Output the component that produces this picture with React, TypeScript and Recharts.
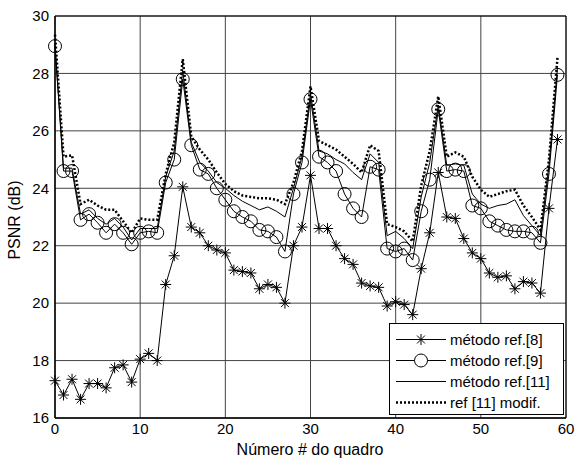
import { LineChart, Line, XAxis, YAxis, CartesianGrid, ReferenceArea, Legend } from "recharts"

const frames = Array.from({ length: 60 }, (_, i) => i)

const ref8 = [
  17.3, 16.8, 17.35, 16.65, 17.2, 17.2, 17.05, 17.75, 17.85, 17.25,
  18.05, 18.25, 18.0, 20.65, 21.65, 24.05, 22.65, 22.45, 22.0, 21.85,
  21.75, 21.15, 21.1, 21.05, 20.5, 20.65, 20.55, 20.0, 22.0, 22.65,
  24.45, 22.6, 22.6, 22.0, 21.55, 21.35, 20.7, 20.6, 20.55, 19.9,
  20.05, 19.95, 19.6, 21.2, 22.45, 24.55, 23.0, 22.95, 22.25, 21.75,
  21.55, 21.05, 20.9, 20.95, 20.5, 20.75, 20.7, 20.35, 23.3, 25.7,
]

const ref9 = [
  28.95, 24.6, 24.6, 22.9, 23.1, 22.8, 22.45, 22.75, 22.45, 22.05,
  22.45, 22.5, 22.45, 24.2, 25.0, 27.8, 25.5, 24.65, 24.5, 24.0,
  23.6, 23.2, 23.0, 22.85, 22.55, 22.5, 22.3, 21.8, 23.8, 24.9,
  27.1, 25.1, 24.9, 24.6, 23.8, 23.3, 23.0, 24.75, 24.65, 21.9,
  21.8, 21.9, 21.5, 23.2, 24.3, 26.75, 24.6, 24.65, 24.6, 23.4,
  23.3, 22.85, 22.7, 22.55, 22.5, 22.5, 22.45, 22.1, 24.5, 27.95,
]

const ref11 = [
  29.0, 24.7, 24.7, 23.1, 23.25, 22.95, 22.75, 22.95, 22.65, 22.2,
  22.6, 22.6, 22.6, 24.4, 25.3, 28.1, 25.6, 24.9, 24.6, 24.2,
  24.0, 23.75, 23.55, 23.4, 23.25, 23.35, 23.2, 23.0, 24.0, 25.1,
  27.3, 25.3, 25.2, 25.0, 24.85, 24.55, 24.3, 25.2, 24.9, 22.35,
  22.5, 22.25, 21.9, 23.7, 24.9, 26.9, 24.8, 24.85, 24.8, 23.8,
  23.45, 23.3, 23.4, 23.45, 23.6, 23.05, 22.7, 22.35, 24.8, 28.2,
]

const ref11mod = [
  29.35, 25.1, 25.15, 23.45, 23.6, 23.4, 23.25, 23.25, 22.85, 22.45,
  22.95, 22.9, 22.9, 24.5, 25.6, 28.5, 25.8, 25.35, 25.0, 24.55,
  24.15, 23.9, 23.75, 23.7, 23.65, 23.65, 23.6, 23.45, 24.2, 25.3,
  27.55, 25.65, 25.5, 25.35, 25.1, 24.85, 24.55, 25.5, 25.3, 22.75,
  22.65, 22.5, 22.15, 24.1, 25.3, 27.2, 25.1, 25.25, 25.1, 24.4,
  23.95, 23.7, 23.8, 23.9, 23.95, 23.4, 23.0, 22.55, 25.0, 28.55,
]

const names = ["método ref.[8]", "método ref.[9]", "método ref.[11]", "ref [11] modif."]
const xTicks = [0, 10, 20, 30, 40, 50, 60]
const yTicks = [16, 18, 20, 22, 24, 26, 28, 30]

const data = frames.map((f, i) => ({
  frame: f,
  ref8: ref8[i],
  ref9: ref9[i],
  ref11: ref11[i],
  ref11mod: ref11mod[i],
}))

const FONT = "'Liberation Sans', Arial, sans-serif"

function Star({ cx, cy }: any) {
  if (cx == null || cy == null) return null
  const r = 5.5
  const d = r * 0.72
  return (
    <g stroke="#000" strokeWidth={1}>
      <line x1={cx} y1={cy - r} x2={cx} y2={cy + r} />
      <line x1={cx - r} y1={cy} x2={cx + r} y2={cy} />
      <line x1={cx - d} y1={cy - d} x2={cx + d} y2={cy + d} />
      <line x1={cx - d} y1={cy + d} x2={cx + d} y2={cy - d} />
    </g>
  )
}

function Ring({ cx, cy }: any) {
  if (cx == null || cy == null) return null
  return <circle cx={cx} cy={cy} r={6.5} fill="none" stroke="#000" strokeWidth={1} />
}

function LegendBox() {
  const rows = [
    { name: names[0], marker: "star", dash: undefined, width: 1 },
    { name: names[1], marker: "ring", dash: undefined, width: 1 },
    { name: names[2], marker: "none", dash: undefined, width: 1 },
    { name: names[3], marker: "none", dash: "2 2", width: 2.5 },
  ]
  return (
    <div
      style={{
        width: 175,
        height: 92,
        boxSizing: "border-box",
        border: "1px solid #000",
        background: "#fff",
        paddingTop: 5,
        fontFamily: FONT,
        fontSize: 15,
        color: "#000",
      }}
    >
      {rows.map((r) => (
        <div key={r.name} style={{ display: "flex", alignItems: "center", height: 21 }}>
          <svg width={60} height={21} style={{ flex: "none" }}>
            <line x1={6} y1={10.5} x2={56} y2={10.5} stroke="#000" strokeWidth={r.width} strokeDasharray={r.dash} />
            {r.marker === "star" && <Star cx={31} cy={10.5} />}
            {r.marker === "ring" && <circle cx={31} cy={10.5} r={6.5} fill="#fff" stroke="#000" />}
          </svg>
          <span style={{ whiteSpace: "nowrap", lineHeight: "21px" }}>{r.name}</span>
        </div>
      ))}
    </div>
  )
}

export default function App() {
  return (
    <div style={{ position: "absolute", left: 0, top: 0, width: 576, height: 459, background: "#fff" }}>
      <LineChart width={576} height={459} data={data} margin={{ top: 16, right: 10, bottom: 0, left: 0 }}>
        <CartesianGrid stroke="#444" strokeWidth={1} />
        <XAxis
          dataKey="frame"
          type="number"
          domain={[0, 60]}
          ticks={xTicks}
          height={41}
          tickLine={false}
          tickSize={0}
          tickMargin={5}
          axisLine={{ stroke: "#000" }}
          tick={{ fontSize: 15, fill: "#000", fontFamily: FONT }}
        />
        <YAxis
          type="number"
          domain={[16, 30]}
          ticks={yTicks}
          width={55}
          tickLine={false}
          tickSize={0}
          tickMargin={6}
          axisLine={{ stroke: "#000" }}
          tick={{ fontSize: 15, fill: "#000", fontFamily: FONT }}
        />
        <ReferenceArea x1={0} x2={60} y1={16} y2={30} fill="none" stroke="#000" strokeWidth={1} />
        <Line dataKey="ref11mod" name={names[3]} stroke="#000" strokeWidth={2.5} strokeDasharray="2 2" dot={false} isAnimationActive={false} />
        <Line dataKey="ref11" name={names[2]} stroke="#000" strokeWidth={1} dot={false} isAnimationActive={false} />
        <Line dataKey="ref9" name={names[1]} stroke="#000" strokeWidth={1} dot={<Ring />} isAnimationActive={false} />
        <Line dataKey="ref8" name={names[0]} stroke="#000" strokeWidth={1} dot={<Star />} isAnimationActive={false} />
        <Legend
          layout="vertical"
          align="center"
          verticalAlign="middle"
          content={() => <LegendBox />}
          wrapperStyle={{ position: "absolute", left: 389, top: 323, width: 175 }}
        />
        <text x={310} y={455} textAnchor="middle" fontSize={16} fontFamily={FONT} fill="#000">
          Número # do quadro
        </text>
        <text x={20} y={220} textAnchor="middle" fontSize={16} fontFamily={FONT} fill="#000" transform="rotate(-90 20 220)">
          PSNR (dB)
        </text>
      </LineChart>
    </div>
  )
}
